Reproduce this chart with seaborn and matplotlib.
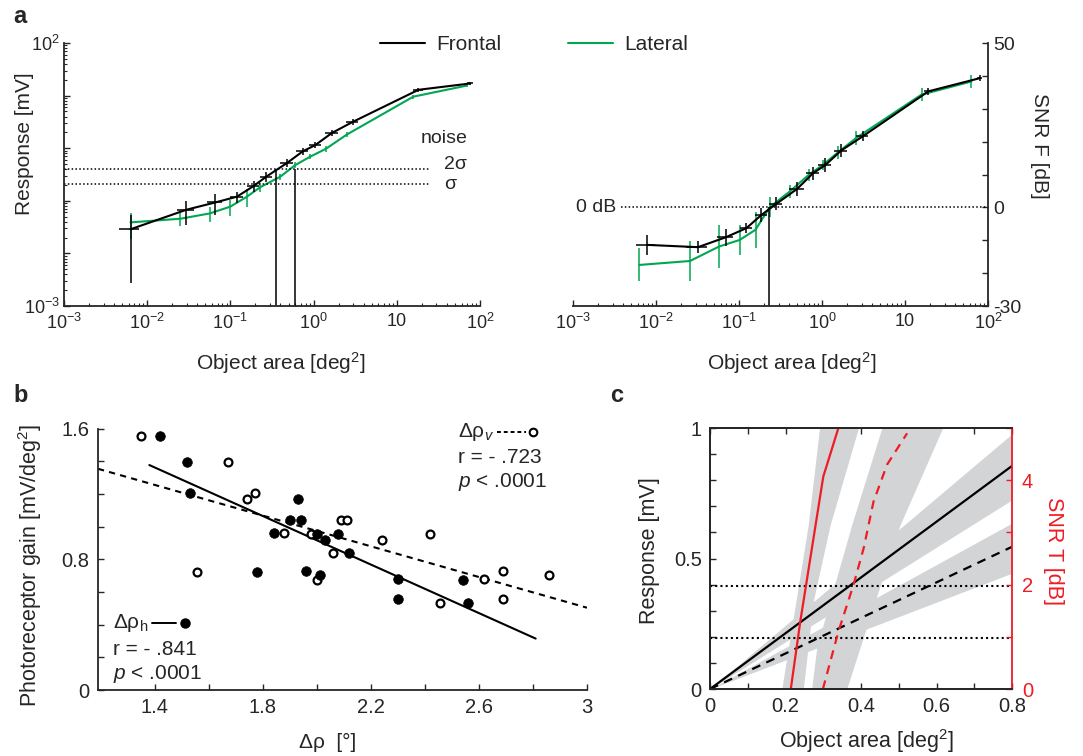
import numpy as np
import matplotlib
matplotlib.use("Agg")
import matplotlib.pyplot as plt
import seaborn as sns
from matplotlib.lines import Line2D
from matplotlib.ticker import LogLocator, NullFormatter, FixedLocator

# ---- panel a, left: response vs object area (log-log)
frontal_area = [0.0063, 0.0295, 0.066, 0.12, 0.19, 0.27, 0.48, 0.74, 1.05, 1.66, 2.95, 18.2, 76.0]
frontal_resp = [0.0288, 0.0676, 0.0933, 0.120, 0.191, 0.288, 0.525, 0.871, 1.148, 1.95, 3.16, 12.9, 17.0]
frontal_resp_err = [0.026, 0.033, 0.04, 0.03, 0.045, 0.06, 0.09, 0.12, 0.14, 0.25, 0.4, 1.0, 1.0]
frontal_area_err = [0.0017, 0.0067, 0.014, 0.02, 0.03, 0.045, 0.08, 0.12, 0.17, 0.28, 0.5, 2.5, 7.0]

lateral_area = [0.0063, 0.0251, 0.0562, 0.100, 0.158, 0.229, 0.398, 0.603, 0.912, 1.41, 2.51, 15.8, 69.2]
lateral_resp = [0.0389, 0.0457, 0.0575, 0.0776, 0.120, 0.182, 0.288, 0.479, 0.692, 0.977, 1.82, 9.55, 15.5]
lateral_resp_err = [0.02, 0.012, 0.018, 0.025, 0.045, 0.035, 0.04, 0.06, 0.08, 0.12, 0.2, 0.8, 1.2]

noise_2sigma = 0.41
noise_sigma = 0.21
thresh_area = [0.35, 0.59]

# ---- panel a, right: SNR F vs object area
frontal_area_snr = [0.0078, 0.032, 0.069, 0.123, 0.186, 0.282, 0.50, 0.78, 1.10, 1.70, 3.09, 19.1, 79.4]
frontal_snr = [-11.4, -12.1, -9.1, -6.3, -2.3, 1.1, 5.6, 10.4, 12.9, 17.3, 21.6, 35.3, 39.3]
frontal_snr_err = [3.0, 1.8, 2.5, 1.5, 2.0, 2.0, 2.0, 2.0, 2.0, 2.0, 1.5, 1.0, 1.0]
frontal_area_snr_err = [0.002, 0.009, 0.015, 0.02, 0.03, 0.05, 0.1, 0.13, 0.2, 0.3, 0.5, 2.0, 6.0]

lateral_area_snr = [0.0063, 0.0257, 0.0575, 0.102, 0.158, 0.234, 0.407, 0.692, 1.02, 1.55, 2.57, 15.8, 63.1]
lateral_snr = [-17.5, -16.3, -11.9, -9.9, -6.8, 0.06, 4.8, 9.9, 12.9, 16.7, 21.1, 34.3, 38.3]
lateral_snr_err = [5.0, 6.0, 6.5, 4.5, 5.5, 3.0, 2.0, 1.8, 1.5, 2.0, 2.0, 2.0, 2.0]

snr_thresh_area = 0.23

# ---- panel b: photoreceptor gain vs interommatidial angle
rho_h = [1.42, 1.52, 1.53, 1.93, 1.90, 1.94, 1.84, 2.00, 2.03, 2.08, 2.12, 1.78, 1.96, 2.01, 2.30, 2.30, 2.54, 2.56]
gain_h = [1.555, 1.397, 1.204, 1.169, 1.041, 1.041, 0.962, 0.955, 0.921, 0.955, 0.838, 0.722, 0.732, 0.707,
          0.677, 0.555, 0.671, 0.535]
rho_v = [1.35, 1.67, 1.77, 1.74, 1.555, 1.88, 1.98, 2.09, 2.11, 2.06, 2.00, 2.24, 2.42, 2.455, 2.62, 2.69, 2.69, 2.86]
gain_v = [1.555, 1.397, 1.206, 1.169, 0.722, 0.962, 0.955, 1.041, 1.041, 0.838, 0.671, 0.921, 0.955, 0.535,
          0.677, 0.732, 0.555, 0.705]
fit_h_x = [1.38, 2.81]
fit_h_y = [1.378, 0.315]
fit_v_x = [1.19, 3.0]
fit_v_y = [1.355, 0.504]

# ---- panel c: response and SNR T vs object area (linear)
c_area = [0.0, 0.8]
resp_solid = [0.0, 0.855]
resp_solid_lo = [0.0, 0.725]
resp_solid_hi = [0.0, 0.978]
resp_dashed = [0.0, 0.545]
resp_dashed_lo = [0.0, 0.444]
resp_dashed_hi = [0.0, 0.636]
c_noise = [0.395, 0.197]

snrt_solid_area = [0.214, 0.239, 0.300, 0.340]
snrt_solid = [0.0, 1.29, 4.07, 5.0]
snrt_dashed_area = [0.299, 0.340, 0.380, 0.407, 0.433, 0.469, 0.522]
snrt_dashed = [0.0, 1.10, 1.995, 2.70, 3.59, 4.30, 4.90]
band_solid_snr = [0.0, 1.7, 3.14, 5.0]
band_solid_left = [0.190, 0.228, 0.260, 0.290]
band_solid_right = [0.247, 0.274, 0.318, 0.393]
band_dashed_snr = [0.0, 0.81, 3.14, 5.0]
band_dashed_left = [0.269, 0.283, 0.375, 0.455]
band_dashed_right = [0.362, 0.398, 0.503, 0.616]

GREEN = "#00a651"
RED = "#ee1c24"
GRAY = "#d3d4d6"

sns.set_theme(style="ticks")
plt.rcParams["font.family"] = ["Liberation Sans", "DejaVu Sans"]
plt.rcParams["mathtext.fontset"] = "custom"
plt.rcParams["mathtext.rm"] = "Liberation Sans"
plt.rcParams["mathtext.it"] = "Liberation Sans:italic"
plt.rcParams["mathtext.bf"] = "Liberation Sans:bold"
plt.rcParams["axes.linewidth"] = 1.3
plt.rcParams["xtick.direction"] = "in"
plt.rcParams["ytick.direction"] = "in"

fig = plt.figure(figsize=(10.83, 7.56), dpi=100)
ax_a1 = fig.add_axes([0.0591, 0.5952, 0.3841, 0.3479])
ax_a2 = fig.add_axes([0.5291, 0.5952, 0.3832, 0.3479])
ax_b = fig.add_axes([0.0905, 0.0873, 0.4515, 0.3455])
ax_c = fig.add_axes([0.6556, 0.0886, 0.2789, 0.3452])

decade_labels = [r"$\mathregular{10^{-3}}$", r"$\mathregular{10^{-2}}$", r"$\mathregular{10^{-1}}$",
                 r"$\mathregular{10^{0}}$", "10", r"$\mathregular{10^{2}}$"]


def log_xaxis(ax):
    ax.set_xscale("log")
    ax.set_xlim(1e-3, 1e2)
    ax.xaxis.set_major_locator(FixedLocator([1e-3, 1e-2, 1e-1, 1, 10, 100]))
    ax.set_xticklabels(decade_labels)
    ax.xaxis.set_minor_locator(LogLocator(base=10, subs=np.arange(2, 10), numticks=20))
    ax.xaxis.set_minor_formatter(NullFormatter())
    ax.tick_params(axis="x", which="major", length=4, width=1, labelsize=13, pad=5)
    ax.tick_params(axis="x", which="minor", length=2.5, width=0.8)


# panel a left
ax = ax_a1
ax.errorbar(lateral_area, lateral_resp, yerr=lateral_resp_err, fmt="none", ecolor=GREEN, elinewidth=1.1)
sns.lineplot(x=lateral_area, y=lateral_resp, ax=ax, color=GREEN, lw=1.5, estimator=None, sort=False)
ax.errorbar(frontal_area, frontal_resp, yerr=frontal_resp_err, xerr=frontal_area_err, fmt="none",
            ecolor="black", elinewidth=1.1)
sns.lineplot(x=frontal_area, y=frontal_resp, ax=ax, color="black", lw=1.5, estimator=None, sort=False)
ax.hlines([noise_2sigma, noise_sigma], 1e-3, 25, colors="black", linestyles=(0, (1, 1.5)), lw=1.1)
ax.vlines(thresh_area, 1e-3, noise_2sigma, colors="black", lw=1.1)
ax.set_yscale("log")
ax.set_ylim(1e-3, 1e2)
log_xaxis(ax)
ax.yaxis.set_major_locator(FixedLocator([1e-3, 1e-2, 1e-1, 1, 10, 100]))
ax.set_yticklabels([r"$\mathregular{10^{-3}}$", "", "", "", "", r"$\mathregular{10^{2}}$"])
ax.yaxis.set_minor_locator(LogLocator(base=10, subs=np.arange(2, 10), numticks=20))
ax.yaxis.set_minor_formatter(NullFormatter())
ax.tick_params(axis="y", which="major", length=4, width=1, labelsize=13, pad=3)
ax.tick_params(axis="y", which="minor", length=2.5, width=0.8)
ax.text(19.5, 1.55, "noise", fontsize=14, ha="left", va="center")
ax.text(37, 0.5, "2σ", fontsize=14, ha="left", va="center")
ax.text(37, 0.2, "σ", fontsize=14, ha="left", va="center")
ax.set_xlabel(r"Object area [deg$^{2}$]", fontsize=15, va="center")
ax.xaxis.set_label_coords(0.52, -0.217)
ax.set_ylabel("Response [mV]", fontsize=15, va="center")
ax.yaxis.set_label_coords(-0.094, 0.616)
sns.despine(ax=ax)

# panel a right
ax = ax_a2
ax.errorbar(lateral_area_snr, lateral_snr, yerr=lateral_snr_err, fmt="none", ecolor=GREEN, elinewidth=1.1)
sns.lineplot(x=lateral_area_snr, y=lateral_snr, ax=ax, color=GREEN, lw=1.5, estimator=None, sort=False)
ax.errorbar(frontal_area_snr, frontal_snr, yerr=frontal_snr_err, xerr=frontal_area_snr_err, fmt="none",
            ecolor="black", elinewidth=1.1)
sns.lineplot(x=frontal_area_snr, y=frontal_snr, ax=ax, color="black", lw=1.5, estimator=None, sort=False)
ax.hlines(0, 0.0038, 1e2, colors="black", linestyles=(0, (1, 1.5)), lw=1.1)
ax.vlines(snr_thresh_area, -30, 0, colors="black", lw=1.1)
ax.text(0.0033, 0, "0 dB", fontsize=14, ha="right", va="center")
log_xaxis(ax)
ax.set_ylim(-30, 50)
ax.yaxis.tick_right()
ax.set_yticks(np.arange(-30, 51, 10))
ax.set_yticklabels(["-30", "", "", "0", "", "", "", "", "50"])
ax.tick_params(axis="y", length=4, width=1, labelsize=14, pad=4)
ax.spines["top"].set_visible(False)
ax.spines["left"].set_visible(False)
ax.set_xlabel(r"Object area [deg$^{2}$]", fontsize=15, va="center")
ax.xaxis.set_label_coords(0.527, -0.217)
ax.yaxis.set_label_position("right")
ax.set_ylabel("SNR F [dB]", fontsize=15, rotation=-90, va="center", ha="center")
ax.yaxis.set_label_coords(1.123, 0.61)

fig.legend(handles=[Line2D([], [], color="black", lw=1.5), Line2D([], [], color=GREEN, lw=1.5)],
           labels=["Frontal", "Lateral"], loc="center", bbox_to_anchor=(534 / 1083, 1 - 45 / 756),
           ncol=2, frameon=False, fontsize=15, handlelength=2.15, handletextpad=0.55, columnspacing=3.2)

# panel b
ax = ax_b
sns.lineplot(x=fit_v_x, y=fit_v_y, ax=ax, color="black", lw=1.5, linestyle=(0, (3, 2.5)),
             estimator=None, sort=False)
sns.lineplot(x=fit_h_x, y=fit_h_y, ax=ax, color="black", lw=1.5, estimator=None, sort=False)
sns.scatterplot(x=rho_v, y=gain_v, ax=ax, color="white", edgecolor="black", linewidth=1.6, s=32, zorder=3)
sns.scatterplot(x=rho_h, y=gain_h, ax=ax, color="black", edgecolor="black", linewidth=0.5, s=48, zorder=4)
ax.set_xlim(1.19, 3.0)
ax.set_ylim(0, 1.6)
ax.set_xticks(np.arange(1.4, 3.01, 0.2))
ax.set_xticklabels(["1.4", "", "1.8", "", "2.2", "", "2.6", "", "3"])
ax.set_yticks(np.arange(0, 1.61, 0.2))
ax.set_yticklabels(["0", "", "", "", "0.8", "", "", "", "1.6"])
ax.tick_params(axis="both", length=4, width=1, labelsize=14.5, pad=6)
sns.despine(ax=ax)
ax.set_xlabel("Δρ  [°]", fontsize=15, va="center")
ax.xaxis.set_label_coords(0.47, -0.2)
ax.set_ylabel(r"Photoreceptor gain [mV/deg$^{2}$]", fontsize=15.5, va="center")
ax.yaxis.set_label_coords(-0.139, 0.477)
tr = ax.transAxes
ax.text(0.737, 0.988, r"Δρ$_{v}$", transform=tr, fontsize=15, ha="left", va="center")
ax.plot([0.815, 0.876], [0.988, 0.988], transform=tr, color="black", lw=1.4, ls=(0, (2, 1.5)), clip_on=False)
ax.plot([0.890], [0.988], transform=tr, marker="o", ms=5.5, mfc="white", mec="black", mew=1.5, clip_on=False)
ax.text(0.737, 0.892, "r = - .723", transform=tr, fontsize=15, ha="left", va="center")
ax.text(0.737, 0.796, r"$p$ < .0001", transform=tr, fontsize=15, ha="left", va="center")
ax.text(0.031, 0.2565, r"Δρ$_\mathregular{h}$", transform=tr, fontsize=15, ha="left", va="center")
ax.plot([0.11, 0.16], [0.2565, 0.2565], transform=tr, color="black", lw=1.4)
ax.plot([0.178], [0.2565], transform=tr, marker="o", ms=6.5, mfc="black", mec="black")
ax.text(0.031, 0.154, "r = - .841", transform=tr, fontsize=15, ha="left", va="center")
ax.text(0.031, 0.062, r"$p$ < .0001", transform=tr, fontsize=15, ha="left", va="center")

# panel c
ax = ax_c
ax2 = ax.twinx()
ax.set_xlim(0, 0.8)
ax.set_ylim(0, 1)
ax2.set_ylim(0, 5)
ax.fill_between(c_area, resp_solid_lo, resp_solid_hi, color=GRAY, lw=0, zorder=1)
ax.fill_between(c_area, resp_dashed_lo, resp_dashed_hi, color=GRAY, lw=0, zorder=1)
ax.fill_betweenx(band_solid_snr, band_solid_left, band_solid_right, color=GRAY, lw=0, zorder=1,
                 transform=ax2.transData)
ax.fill_betweenx(band_dashed_snr, band_dashed_left, band_dashed_right, color=GRAY, lw=0, zorder=1,
                 transform=ax2.transData)
ax.hlines(c_noise, 0, 0.8, colors="black", linestyles=(0, (1, 1.5)), lw=1.5, zorder=2)
sns.lineplot(x=c_area, y=resp_solid, ax=ax, color="black", lw=1.6, estimator=None, sort=False, zorder=3)
sns.lineplot(x=c_area, y=resp_dashed, ax=ax, color="black", lw=1.6, linestyle=(0, (4, 3)),
             estimator=None, sort=False, zorder=3)
sns.lineplot(x=snrt_solid_area, y=snrt_solid, ax=ax2, color=RED, lw=1.6, estimator=None, sort=False)
sns.lineplot(x=snrt_dashed_area, y=snrt_dashed, ax=ax2, color=RED, lw=1.6, linestyle=(0, (4, 3)),
             estimator=None, sort=False)
ax.set_xlim(0, 0.8)
ax.set_ylim(0, 1)
ax2.set_ylim(0, 5)
ax.set_xticks(np.arange(0, 0.81, 0.1))
ax.set_xticklabels(["0", "", "0.2", "", "0.4", "", "0.6", "", "0.8"])
ax.set_yticks(np.arange(0, 1.01, 0.1))
ax.set_yticklabels(["0", "", "", "", "", "0.5", "", "", "", "", "1"])
ax.tick_params(axis="both", length=4, width=1, labelsize=14.5, pad=6, top=True)
ax2.set_yticks(np.arange(0, 5.1, 1))
ax2.set_yticklabels(["0", "", "2", "", "4", ""])
ax2.tick_params(axis="y", length=4, width=1, labelsize=14.5, pad=7, colors=RED)
for a in (ax, ax2):
    for s in a.spines.values():
        s.set_linewidth(1.3)
ax2.spines["right"].set_color(RED)
ax.spines["right"].set_visible(False)
ax.set_xlabel(r"Object area [deg$^{2}$]", fontsize=15.5, va="center")
ax.xaxis.set_label_coords(0.519, -0.2)
ax.set_ylabel("Response [mV]", fontsize=15.5, va="center")
ax.yaxis.set_label_coords(-0.202, 0.529)
ax2.set_ylabel("SNR T [dB]", fontsize=15.5, color=RED, rotation=-90, va="center", ha="center")
ax2.yaxis.set_label_coords(1.136, 0.529)

fig.text(0.012, 1 - 23 / 756, "a", fontsize=17, fontweight="bold", va="baseline")
fig.text(0.012, 1 - 402 / 756, "b", fontsize=17, fontweight="bold", va="baseline")
fig.text(0.563, 1 - 402 / 756, "c", fontsize=17, fontweight="bold", va="baseline")

fig.savefig("out.png", dpi=100)
